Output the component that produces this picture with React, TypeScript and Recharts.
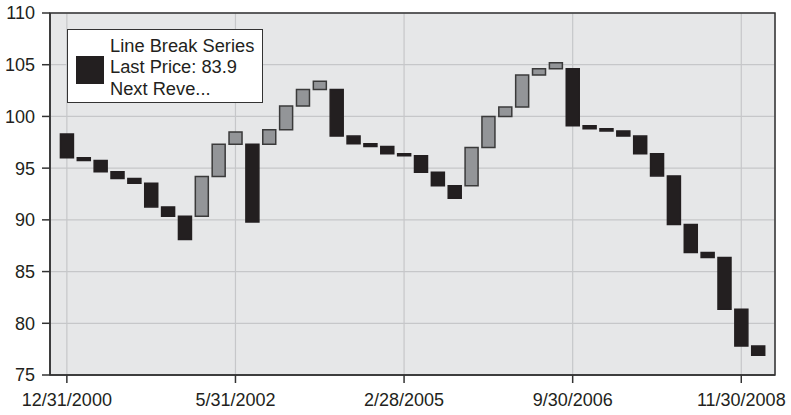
import React from 'react';
import {
  ComposedChart,
  Bar,
  Cell,
  XAxis,
  YAxis,
  CartesianGrid,
  ReferenceArea,
  Legend,
} from 'recharts';

// Line break boxes, in order: open and close of each box
const boxOpen = [
  98.3, 96.0, 95.75, 94.65, 94.0, 93.55, 91.25, 90.35, 90.35, 94.2,
  97.3, 97.3, 97.3, 98.7, 101.0, 102.6, 102.6, 98.1, 97.35, 97.1,
  96.4, 96.2, 94.6, 93.3, 93.3, 97.0, 100.0, 100.9, 104.0, 104.6,
  104.6, 99.1, 98.8, 98.6, 98.1, 96.4, 94.25, 89.55, 86.85, 86.35,
  81.35, 77.8,
];
const boxClose = [
  96.0, 95.75, 94.65, 94.0, 93.55, 91.25, 90.35, 88.1, 94.2, 97.3,
  98.5, 89.8, 98.7, 101.0, 102.6, 103.4, 98.1, 97.35, 97.1, 96.4,
  96.2, 94.6, 93.3, 92.1, 97.0, 100.0, 100.9, 104.0, 104.6, 105.2,
  99.1, 98.8, 98.6, 98.1, 96.4, 94.25, 89.55, 86.85, 86.35, 81.35,
  77.8, 76.9,
];

const xTicks = [0, 10, 20, 30, 40];
const xTickLabels = ['12/31/2000', '5/31/2002', '2/28/2005', '9/30/2006', '11/30/2008'];
const yTicks = [75, 80, 85, 90, 95, 100, 105, 110];

const legendLines = ['Line Break Series', 'Last Price: 83.9', 'Next Reve...'];

const FONT = '"Liberation Sans", Arial, Helvetica, sans-serif';
const UP_FILL = '#939598';
const DOWN_FILL = '#231f20';

const data = boxOpen.map((o, i) => ({
  idx: i,
  range: [Math.min(o, boxClose[i]), Math.max(o, boxClose[i])],
  up: boxClose[i] > o,
}));

function LegendBox() {
  return (
    <div
      style={{
        position: 'absolute',
        left: 67,
        top: 29,
        width: 194,
        height: 72,
        background: '#fff',
        border: '1.5px solid #333',
        fontFamily: FONT,
        fontSize: 18.3,
        color: '#231f20',
      }}
    >
      <div
        style={{
          position: 'absolute',
          left: 8,
          top: 26,
          width: 28,
          height: 28,
          background: DOWN_FILL,
        }}
      />
      <div style={{ position: 'absolute', left: 42, top: 4.5, lineHeight: '21.7px', whiteSpace: 'nowrap' }}>
        {legendLines.map((t) => (
          <div key={t}>{t}</div>
        ))}
      </div>
    </div>
  );
}

export default function App() {
  return (
    <div style={{ position: 'absolute', left: 0, top: 0, width: 791, height: 415, background: '#fff' }}>
      <ComposedChart
        width={791}
        height={415}
        data={data}
        margin={{ top: 13, right: 16, bottom: 0, left: 0 }}
      >
        <CartesianGrid fill="#e6e7e8" stroke="#c6c7c9" strokeWidth={1.2} />
        <XAxis
          dataKey="idx"
          type="number"
          domain={[-1, 42]}
          ticks={xTicks}
          allowDataOverflow
          tickFormatter={(v: number) => xTickLabels[xTicks.indexOf(v)] ?? ''}
          height={40}
          tickSize={8}
          tickMargin={10}
          axisLine={{ stroke: '#333', strokeWidth: 1.5 }}
          tickLine={{ stroke: '#333', strokeWidth: 1.5 }}
          tick={{ fill: '#231f20', fontSize: 18, fontFamily: FONT }}
        />
        <YAxis
          type="number"
          domain={[75, 110]}
          ticks={yTicks}
          allowDataOverflow
          width={50}
          tickSize={8}
          tickMargin={7}
          axisLine={{ stroke: '#333', strokeWidth: 1.5 }}
          tickLine={{ stroke: '#333', strokeWidth: 1.5 }}
          tick={{ fill: '#231f20', fontSize: 18, fontFamily: FONT }}
        />
        <ReferenceArea
          x1={-1}
          x2={42}
          y1={75}
          y2={110}
          fill="none"
          fillOpacity={0}
          stroke="#333"
          strokeWidth={1.5}
          ifOverflow="visible"
        />
        <Bar dataKey="range" barSize={13} isAnimationActive={false} strokeWidth={1.5}>
          {data.map((d) => (
            <Cell
              key={d.idx}
              fill={d.up ? UP_FILL : DOWN_FILL}
              stroke={d.up ? '#3a3a3a' : DOWN_FILL}
            />
          ))}
        </Bar>
        <Legend content={() => null} />
      </ComposedChart>
      <LegendBox />
    </div>
  );
}
